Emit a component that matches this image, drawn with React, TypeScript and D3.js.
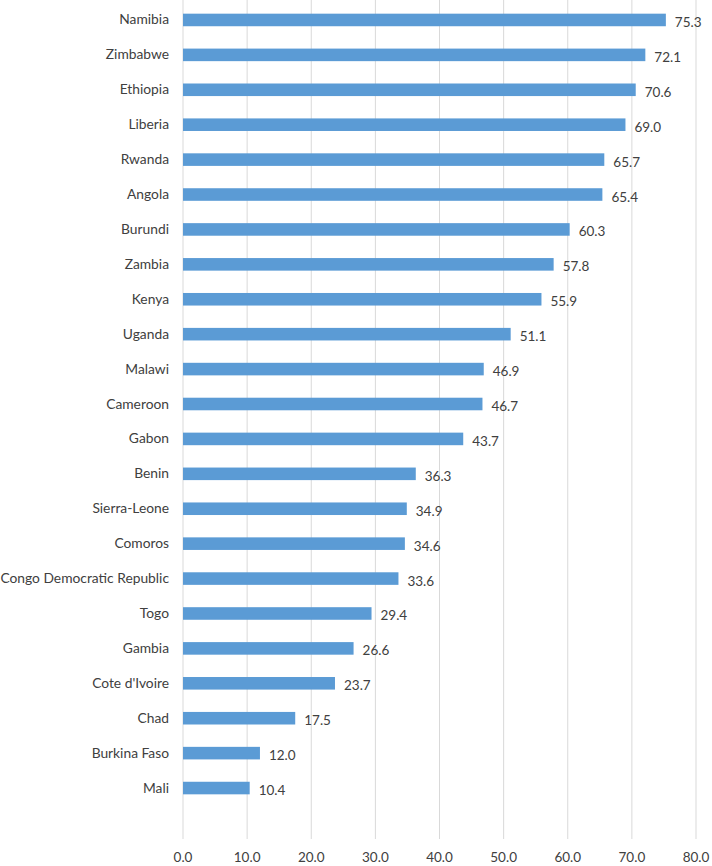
import React, { useEffect, useRef } from "react";
import * as d3 from "d3";

const countries = [
  "Namibia", "Zimbabwe", "Ethiopia", "Liberia", "Rwanda", "Angola", "Burundi",
  "Zambia", "Kenya", "Uganda", "Malawi", "Cameroon", "Gabon", "Benin",
  "Sierra-Leone", "Comoros", "Congo Democratic Republic", "Togo", "Gambia",
  "Cote d'Ivoire", "Chad", "Burkina Faso", "Mali",
];
const values = [
  75.3, 72.1, 70.6, 69.0, 65.7, 65.4, 60.3, 57.8, 55.9, 51.1, 46.9, 46.7, 43.7,
  36.3, 34.9, 34.6, 33.6, 29.4, 26.6, 23.7, 17.5, 12.0, 10.4,
];
const xTicks = [0, 10, 20, 30, 40, 50, 60, 70, 80];

const W = 712;
const H = 866;
const FONT = "Lato, 'Open Sans', sans-serif";

const App: React.FC = () => {
  const svgRef = useRef<SVGSVGElement | null>(null);

  useEffect(() => {
    if (!svgRef.current) return;
    const svg = d3.select(svgRef.current);
    svg.selectAll("*").remove();

    const data = countries.map((c, i) => ({ name: c, value: values[i] }));

    const x = d3.scaleLinear().domain([0, 80]).range([183, 696]);
    const y = d3.scaleBand<string>()
      .domain(countries)
      .range([2.5, 805.5])
      .paddingInner(0.64)
      .paddingOuter(0.32);

    // gridlines
    svg.append("g")
      .selectAll("line")
      .data(xTicks)
      .enter()
      .append("line")
      .attr("x1", d => x(d))
      .attr("x2", d => x(d))
      .attr("y1", 0)
      .attr("y2", 839)
      .attr("stroke", "#d9d9d9")
      .attr("stroke-width", 1);

    // bars
    svg.append("g")
      .selectAll("rect")
      .data(data)
      .enter()
      .append("rect")
      .attr("x", x(0))
      .attr("y", d => y(d.name)!)
      .attr("width", d => x(d.value) - x(0))
      .attr("height", y.bandwidth())
      .attr("fill", "#5b9bd5");

    // value labels
    svg.append("g")
      .selectAll("text")
      .data(data)
      .enter()
      .append("text")
      .attr("x", d => x(d.value) + 9)
      .attr("y", d => y(d.name)! + y.bandwidth() / 2 + 7)
      .text(d => d.value.toFixed(1))
      .style("font-size", "13.5px")
      .style("font-family", FONT)
      .attr("fill", "#404040");

    // category labels
    svg.append("g")
      .selectAll("text")
      .data(data)
      .enter()
      .append("text")
      .attr("text-anchor", "end")
      .attr("x", 169)
      .attr("y", d => y(d.name)! + y.bandwidth() / 2 + 4.5)
      .text(d => d.name)
      .style("font-size", "13.8px")
      .style("font-family", FONT)
      .attr("fill", "#404040");

    // x tick labels
    svg.append("g")
      .selectAll("text")
      .data(xTicks)
      .enter()
      .append("text")
      .attr("text-anchor", "middle")
      .attr("x", d => x(d))
      .attr("y", 862)
      .text(d => d.toFixed(1))
      .style("font-size", "13.5px")
      .style("font-family", FONT)
      .attr("fill", "#404040");
  }, []);

  return (
    <svg
      ref={svgRef}
      width={W}
      height={H}
      style={{ position: "absolute", left: 0, top: 0, background: "#fff" }}
    />
  );
};

export default App;
